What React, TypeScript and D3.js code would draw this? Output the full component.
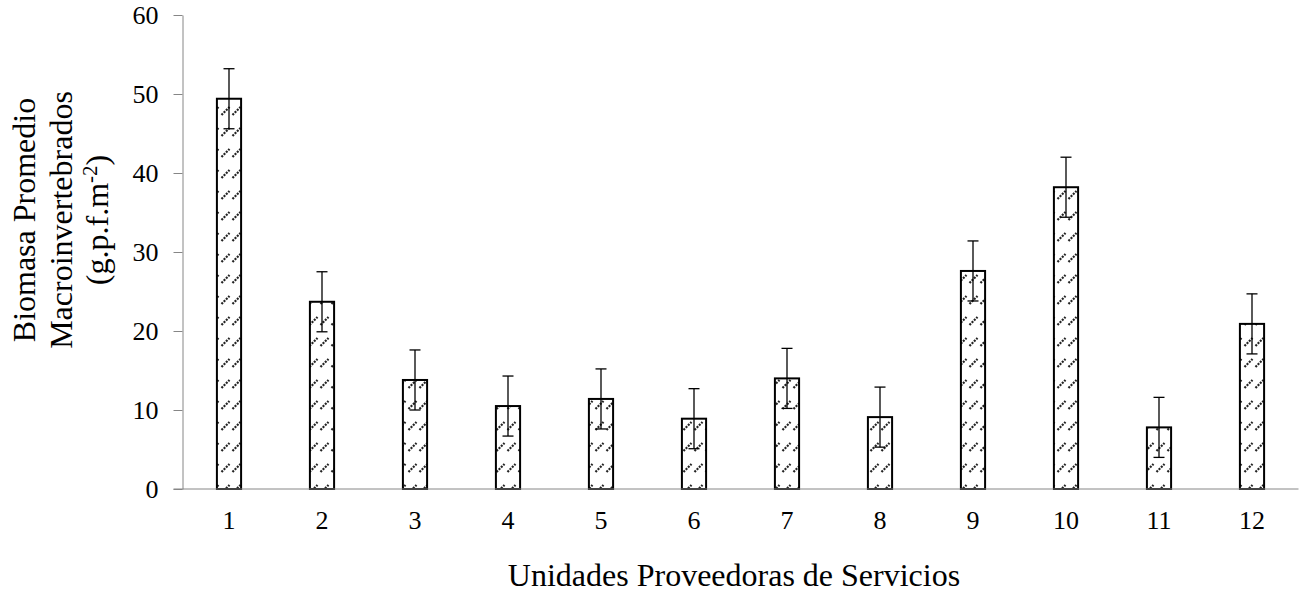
import React, { useRef, useEffect } from 'react';
import * as d3 from 'd3';

const units = ['1', '2', '3', '4', '5', '6', '7', '8', '9', '10', '11', '12'];
const biomass = [49.4, 23.7, 13.8, 10.5, 11.4, 8.9, 14.0, 9.1, 27.6, 38.2, 7.8, 20.9];
const errors = [3.8, 3.8, 3.8, 3.8, 3.8, 3.8, 3.8, 3.8, 3.8, 3.8, 3.8, 3.8];
const yTicks = [0, 10, 20, 30, 40, 50, 60];
const yTitle = ['Biomasa Promedio', 'Macroinvertebrados'];

const App = () => {
    const svgRef = useRef<SVGSVGElement>(null);
    const width = 1302;
    const height = 594;
    const margin = { left: 182.5, right: 3.5, top: 15, bottom: 105 };

    useEffect(() => {
        const svg = d3.select(svgRef.current);
        svg.selectAll('*').remove();

        const font = "'Liberation Serif', 'Times New Roman', serif";

        const x = d3.scaleBand()
            .domain(units)
            .range([margin.left, width - margin.right])
            .paddingInner(0.74)
            .paddingOuter(0.37);

        const y = d3.scaleLinear()
            .domain([0, 60])
            .range([height - margin.bottom, margin.top]);

        // hatch pattern: short dotted diagonal dashes
        const defs = svg.append('defs');
        const pat = defs.append('pattern')
            .attr('id', 'hatch')
            .attr('patternUnits', 'userSpaceOnUse')
            .attr('width', 11)
            .attr('height', 21);
        pat.append('rect').attr('width', 11).attr('height', 21).attr('fill', '#fff');
        pat.append('line')
            .attr('x1', 1.5).attr('y1', 10)
            .attr('x2', 9.5).attr('y2', 2)
            .attr('stroke', '#222')
            .attr('stroke-width', 2.2)
            .attr('stroke-dasharray', '2 1.2');

        // y axis
        const yAxis = svg.append('g')
            .attr('transform', `translate(${margin.left},0)`)
            .call(d3.axisLeft(y).tickValues(yTicks).tickSize(9).tickPadding(15).tickSizeOuter(0));
        yAxis.select('.domain').attr('stroke', '#868686').attr('stroke-width', 1);
        yAxis.selectAll('.tick line').attr('stroke', '#868686');
        yAxis.selectAll('.tick text')
            .attr('font-family', font)
            .attr('font-size', 26)
            .attr('fill', '#000');

        // bars
        svg.append('g')
            .selectAll('rect')
            .data(biomass)
            .enter().append('rect')
            .attr('x', (d, i) => x(units[i])!)
            .attr('y', d => y(d))
            .attr('width', x.bandwidth())
            .attr('height', d => y(0) - y(d))
            .attr('fill', 'url(#hatch)')
            .attr('stroke', '#000')
            .attr('stroke-width', 2);

        // x axis line
        const xAxis = svg.append('g')
            .attr('transform', `translate(0,${y(0)})`)
            .call(d3.axisBottom(x).tickSize(0).tickPadding(22));
        xAxis.select('.domain')
            .attr('d', `M${margin.left - 9},0H${width - margin.right}`)
            .attr('stroke', '#868686');
        xAxis.selectAll('.tick text')
            .attr('font-family', font)
            .attr('font-size', 26)
            .attr('fill', '#000');

        // error bars
        const eb = svg.append('g')
            .selectAll('g')
            .data(biomass)
            .enter().append('g')
            .attr('transform', (d, i) => `translate(${x(units[i])! + x.bandwidth() / 2},0)`)
            .attr('stroke', '#000')
            .attr('stroke-width', 1.3);
        eb.append('line')
            .attr('y1', (d, i) => y(d - errors[i]))
            .attr('y2', (d, i) => y(d + errors[i]));
        eb.append('line')
            .attr('x1', -5.5).attr('x2', 5.5)
            .attr('y1', (d, i) => y(d + errors[i]))
            .attr('y2', (d, i) => y(d + errors[i]));
        eb.append('line')
            .attr('x1', -5.5).attr('x2', 5.5)
            .attr('y1', (d, i) => y(d - errors[i]))
            .attr('y2', (d, i) => y(d - errors[i]));

        // x title
        svg.append('text')
            .attr('x', 734)
            .attr('y', 586)
            .attr('text-anchor', 'middle')
            .attr('font-family', font)
            .attr('font-size', 32)
            .text('Unidades Proveedoras de Servicios');

        // y title, three lines
        const yt = svg.append('text')
            .attr('transform', 'translate(0,220) rotate(-90)')
            .attr('text-anchor', 'middle')
            .attr('font-family', font)
            .attr('font-size', 32);
        yTitle.forEach((t, i) => {
            yt.append('tspan').attr('x', 0).attr('y', 35 + i * 36.5).text(t);
        });
        const last = yt.append('tspan').attr('x', 0).attr('y', 35 + 2 * 36.5);
        last.append('tspan').text('(g.p.f.m');
        last.append('tspan').attr('dy', -11).attr('font-size', 21).text('-2');
        last.append('tspan').attr('dy', 11).text(')');
    }, []);

    return (
        <svg ref={svgRef} width={width} height={height}
            style={{ position: 'absolute', left: 0, top: 0, background: '#fff' }} />
    );
};

export default App;
